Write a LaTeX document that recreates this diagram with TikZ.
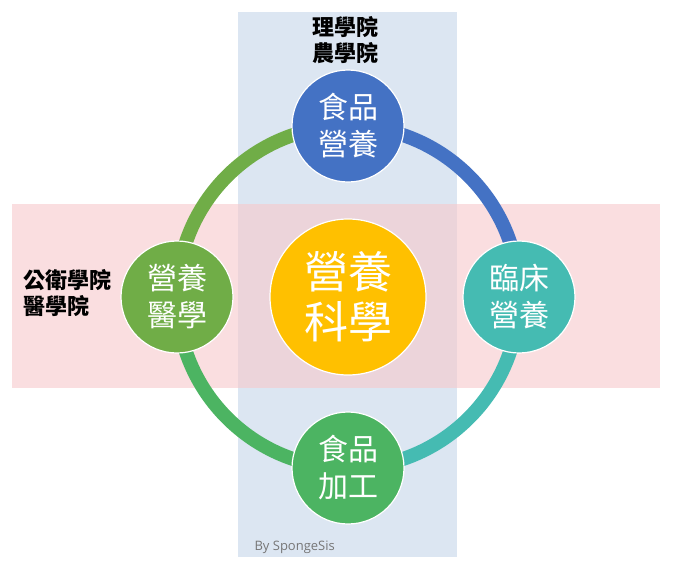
\documentclass[tikz,border=0pt]{standalone}
\usepackage{fontspec}
\usepackage{tikz}
\usetikzlibrary{backgrounds}
\setmainfont{Open Sans}
\newfontfamily\cjk{Noto Sans CJK TC}
\definecolor{nsblue}{RGB}{68,114,196}
\definecolor{nsteal}{RGB}{69,187,178}
\definecolor{nsgreen}{RGB}{76,180,98}
\definecolor{nsolive}{RGB}{112,173,71}
\definecolor{nsgold}{RGB}{255,192,0}
\definecolor{nsbgblue}{RGB}{220,230,242}
\definecolor{nsbgpink}{RGB}{247,200,203}
\definecolor{nsgray}{RGB}{118,118,118}
\tikzset{
  nscirc/.style={circle, draw=white, line width=1.2pt, minimum size=112pt, inner sep=0pt, text=white, align=center, font=\cjk\fontsize{30}{37}\selectfont},
  nscore/.style={nscirc, fill=nsgold, minimum size=156pt, font=\cjk\fontsize{44}{50}\selectfont},
  nsring/.style={line width=14pt},
  nslab/.style={font=\cjk\bfseries\fontsize{22}{26}\selectfont}
}

\begin{document}
\begin{tikzpicture}[x=1pt, y=-1pt]
  \useasboundingbox (0,0) rectangle (674,568);
  % circles
  \node[nscore] (sci) at (348,297) {營養\\科學};
  \node[nscirc, fill=nsblue] (food) at (348,126) {食品\\營養};
  \node[nscirc, fill=nsteal] (clinic) at (519,297) {臨床\\營養};
  \node[nscirc, fill=nsgreen] (proc) at (348,468) {食品\\加工};
  \node[nscirc, fill=nsolive] (med) at (177,297) {營養\\醫學};
  % labels
  \node[nslab, align=center] (labtop) at (345,40) {理學院\\農學院};
  \node[nslab, align=left, anchor=west] (lableft) at (20,293) {公衛學院\\醫學院};
  \node[text=nsgray, font=\fontsize{13}{15}\selectfont, anchor=west] (credit) at (251,547) {By SpongeSis};
  \begin{scope}[on background layer]
    \fill[nsbgblue] (238,12) rectangle (457,557);
    \fill[nsbgpink, fill opacity=.6] (12,204) rectangle (660,388);
    % ring
    \draw[nsring, nsblue] (food.center) arc[start angle=270, end angle=360, radius=171];
    \draw[nsring, nsteal] (clinic.center) arc[start angle=0, end angle=90, radius=171];
    \draw[nsring, nsgreen] (proc.center) arc[start angle=90, end angle=180, radius=171];
    \draw[nsring, nsolive] (med.center) arc[start angle=180, end angle=270, radius=171];
  \end{scope}
\end{tikzpicture}
\end{document}
